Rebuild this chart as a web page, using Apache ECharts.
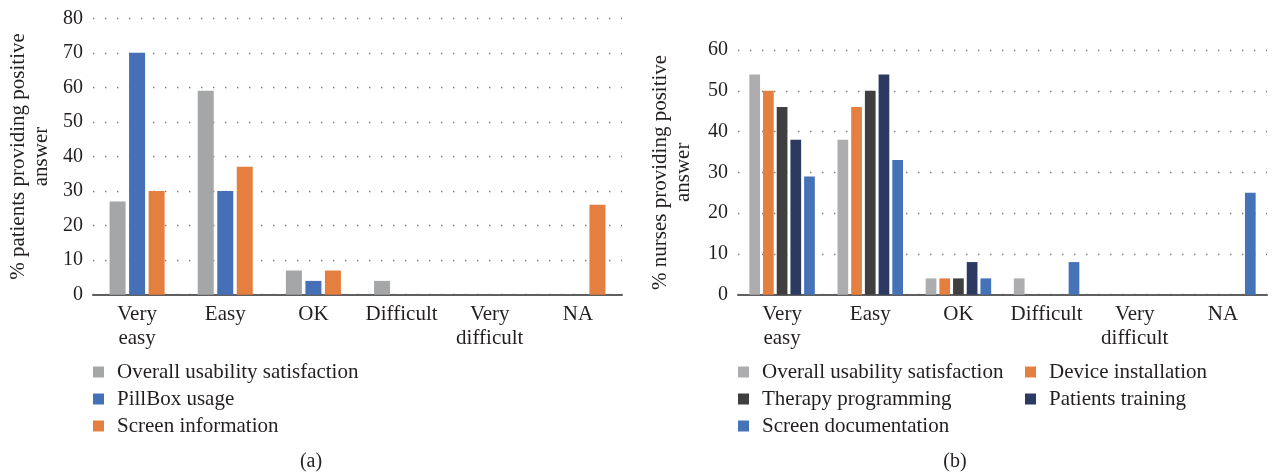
<!DOCTYPE html>
<html>
<head>
<meta charset="utf-8">
<script src="https://cdn.jsdelivr.net/npm/echarts@6/dist/echarts.min.js"></script>
<style>
html,body{margin:0;padding:0;background:#fff;}
#c{width:1272px;height:472px;}
</style>
</head>
<body>
<div id="c"></div>
<script>
// Data
const categories = ['Very\neasy', 'Easy', 'OK', 'Difficult', 'Very\ndifficult', 'NA'];

// (a) patients
const patientSeriesNames = ['Overall usability satisfaction', 'PillBox usage', 'Screen information'];
const patientOverall = [27, 59, 7, 4, 0, 0];
const patientPillBox = [70, 30, 4, 0, 0, 0];
const patientScreen = [30, 37, 7, 0, 0, 26];
const patientTicks = { min: 0, max: 80, interval: 10 };

// (b) nurses
const nurseSeriesNames = ['Overall usability satisfaction', 'Device installation', 'Therapy programming', 'Patients training', 'Screen documentation'];
const nurseOverall = [54, 38, 4, 4, 0, 0];
const nurseDevice = [50, 46, 4, 0, 0, 0];
const nurseTherapy = [46, 50, 4, 0, 0, 0];
const nurseTraining = [38, 54, 8, 0, 0, 0];
const nurseScreenDoc = [29, 33, 4, 8, 0, 25];
const nurseTicks = { min: 0, max: 60, interval: 10 };

const FONT = 'Liberation Serif';
const TXT = '#231f20';
const colA = ['#a5a6a8', '#4570b8', '#e57f3f'];
const colB = ['#adacaf', '#e57f3f', '#3f3f40', '#2c3a62', '#4672b8'];

const chart = echarts.init(document.getElementById('c'), null, { renderer: 'canvas' });

function xAxisCfg(gi) {
  return {
    type: 'category', gridIndex: gi, data: categories,
    axisLine: { lineStyle: { color: '#5f5f5f', width: 2 } },
    axisTick: { show: false },
    axisLabel: { interval: 0, color: TXT, fontFamily: FONT, fontSize: 21, lineHeight: 24, margin: 8 }
  };
}
function yAxisCfg(gi, t, name, gap) {
  return {
    type: 'value', gridIndex: gi, min: t.min, max: t.max, interval: t.interval,
    name: name, nameLocation: 'middle', nameGap: gap, nameRotate: 90,
    nameTextStyle: { color: TXT, fontFamily: FONT, fontSize: 21, lineHeight: 23 },
    axisLine: { show: false }, axisTick: { show: false },
    axisLabel: { color: TXT, fontFamily: FONT, fontSize: 20, margin: 10 },
    splitLine: { lineStyle: { color: '#7a7a7a', width: 1.4, type: [1.4, 10.6] } }
  };
}
function legendCfg(names, colors, left) {
  return {
    orient: 'vertical', left: left, top: 358.5, padding: 0, itemWidth: 11, itemHeight: 11, itemGap: 0,
    icon: 'rect', selectedMode: false,
    data: names.map((n, i) => ({ name: n, itemStyle: { color: colors[i] } })),
    textStyle: { color: TXT, fontFamily: FONT, fontSize: 21, lineHeight: 27, padding: [0, 0, 0, 8] }
  };
}

const aData = [patientOverall, patientPillBox, patientScreen];
const bData = [nurseOverall, nurseDevice, nurseTherapy, nurseTraining, nurseScreenDoc];

const series = [];
aData.forEach((d, i) => series.push({
  type: 'bar', name: patientSeriesNames[i], xAxisIndex: 0, yAxisIndex: 0, data: d,
  barWidth: 16, barGap: '22%', itemStyle: { color: colA[i] }, silent: true
}));
bData.forEach((d, i) => series.push({
  type: 'bar', name: nurseSeriesNames[i], xAxisIndex: 1, yAxisIndex: 1, data: d,
  barWidth: 10.7, barGap: '28%', itemStyle: { color: colB[i] }, silent: true
}));

chart.setOption({
  animation: false,
  backgroundColor: '#fff',
  grid: [
    { left: 93, right: 650, top: 18.3, bottom: 177.3 },
    { left: 738, right: 5, top: 50, bottom: 177.3 }
  ],
  xAxis: [xAxisCfg(0), xAxisCfg(1)],
  yAxis: [
    yAxisCfg(0, patientTicks, '% patients providing positive\nanswer', 40),
    yAxisCfg(1, nurseTicks, '% nurses providing positive\nanswer', 43)
  ],
  legend: [
    legendCfg(patientSeriesNames, colA, 93),
    legendCfg([nurseSeriesNames[0], nurseSeriesNames[2], nurseSeriesNames[4]], [colB[0], colB[2], colB[4]], 738),
    legendCfg([nurseSeriesNames[1], nurseSeriesNames[3]], [colB[1], colB[3]], 1025)
  ],
  graphic: [
    { type: 'text', x: 311, y: 462, style: { text: '(a)', fill: TXT, font: '20px "' + FONT + '"', textAlign: 'center', textVerticalAlign: 'middle' } },
    { type: 'text', x: 955, y: 462, style: { text: '(b)', fill: TXT, font: '20px "' + FONT + '"', textAlign: 'center', textVerticalAlign: 'middle' } }
  ],
  series: series
});
</script>
</body>
</html>
